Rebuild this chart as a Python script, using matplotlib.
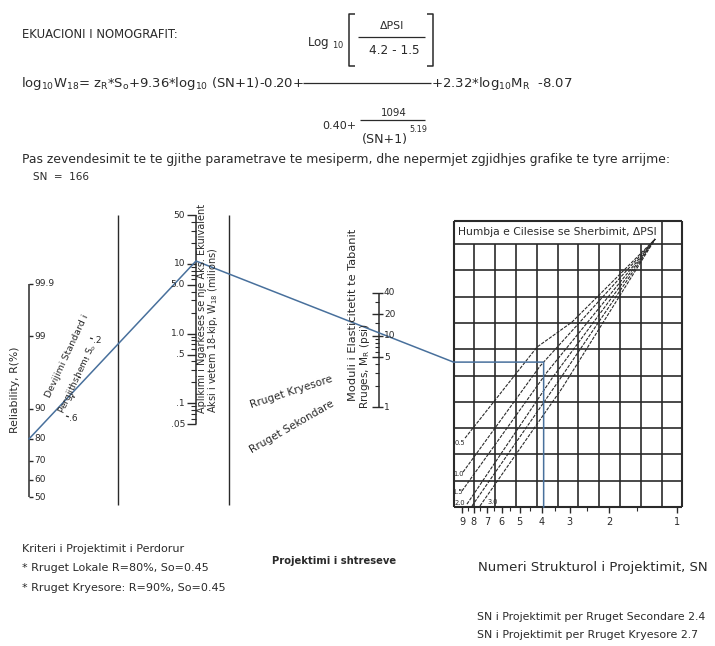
import math
import numpy as np
import matplotlib
matplotlib.use("Agg")
import matplotlib.pyplot as plt

rel_values = [99.9, 99, 90, 80, 70, 60, 50]
rel_labels = ["99.9", "99", "90", "80", "70", "60", "50"]
so_values = [0.2, 0.3, 0.4, 0.5, 0.6]
so_labels = [".2", "", "", "", ".6"]
w18_major = [50, 10, 5, 1, 0.5, 0.1, 0.05]
w18_labels = ["50", "10", "5.0", "1.0", ".5", ".1", ".05"]
w18_minor = [40, 30, 20, 9, 8, 7, 6, 4, 3, 2, 0.9, 0.8, 0.7, 0.6, 0.4, 0.3,
             0.2, 0.09, 0.08, 0.07, 0.06]
mr_major = [40, 20, 10, 5, 1]
mr_labels = ["40", "20", "10", "5", "1"]
mr_minor = [30, 15, 9, 8, 7, 6, 4, 3, 2]
sn_major = [9, 8, 7, 6, 5, 4, 3, 2, 1]
sn_minor = [8.5, 7.5, 6.5, 5.5, 4.5, 3.5, 2.5, 1.5]
psi_names = ["0.5", "1.0", "1.5", "2.0", "", "3.0"]
psi_sn = [[8.75, 4.19, 2.93, 1.25],
          [8.93, 4.06, 1.25],
          [9.03, 3.78, 1.25],
          [8.58, 3.59, 1.25],
          [8.15, 3.41, 1.25],
          [7.51, 3.24, 1.25]]
psi_row = [[2.62, 6.08, 7.03, 10.19],
           [1.33, 5.36, 10.19],
           [0.61, 5.13, 10.19],
           [0.11, 4.90, 10.19],
           [0.04, 4.71, 10.19],
           [0.04, 4.52, 10.19]]
design_R = 80
design_So = 0.45
design_W18 = 11
design_MR = 11
design_psi = 1

# ---------------- layout ----------------
W, H = 715, 646
INK = "#2a2a2a"
BLUE = "#48709c"
FONT = ["DejaVu Sans"]
plt.rcParams["font.family"] = FONT
plt.rcParams["mathtext.fontset"] = "dejavusans"
plt.rcParams["mathtext.default"] = "regular"

fig = plt.figure(figsize=(W / 100, H / 100), dpi=100)
ax = fig.add_axes([0, 0, 1, 1])
ax.set_xlim(0, W)
ax.set_ylim(H, 0)
ax.axis("off")
fig.canvas.draw()
rend = fig.canvas.get_renderer()

TICKFS = 6.5


def fsize(s, length, **kw):
    t = ax.text(0, 0, s, fontsize=10, **kw)
    w = t.get_window_extent(rend).width
    t.remove()
    return 10.0 * length / w


def txt(s, x0, x1, y, fs=None, lo=5.0, hi=9.5, **kw):
    if fs is None:
        fs = min(max(fsize(s, x1 - x0, **kw), lo), hi)
    ax.text(x0, y, s, fontsize=fs, ha="left", va="center", color=INK, **kw)


def rtxt(s, cx, cy, rot, fs, **kw):
    ax.text(cx, cy, s, fontsize=fs, rotation=rot, rotation_mode="anchor",
            ha="center", va="center", color=INK, **kw)


def line(xs, ys, lw=1.0, color=INK, **kw):
    ax.plot(xs, ys, color=color, lw=lw, solid_capstyle="butt", **kw)


def inv_norm(p):
    lo, hi = -8.0, 8.0
    for _ in range(80):
        mid = 0.5 * (lo + hi)
        if 0.5 * (1 + math.erf(mid / math.sqrt(2))) < p:
            lo = mid
        else:
            hi = mid
    return 0.5 * (lo + hi)


R_X = 29
def r_y(r):
    return 497 - 69 * inv_norm(r / 100.0)

def so_xy(s):
    t = (s - 0.2) / 0.4
    return 90 - 24 * t, 338 + 78 * t

W_X = 196
def w_y(v):
    return 333.6 - 69.7 * math.log10(v)

M_X = 379
def m_y(v):
    return 407 - 71.2 * math.log10(v)

GX0, GDX, NC = 453.5, 20.8, 11
GY0, GDY, NR = 507.0, 26.3, 10
TITLE_TOP = 221
def sn_x(s):
    return 677 - 225 * math.log10(s)

def row_y(r):
    return GY0 - GDY * r

# ---------------- header equation ----------------
txt("EKUACIONI I NOMOGRAFIT:", 22, 178, 35)
txt("Log $_{10}$", 307, 344, 43)
line([355, 349, 349, 355], [14, 14, 66, 66], lw=1.1)
line([427, 433, 433, 427], [14, 14, 66, 66], lw=1.1)
txt("ΔPSI", 380, 404, 26)
line([358, 425], [37, 37], lw=0.9)
txt("4.2 - 1.5", 369, 419, 51)
txt("log$_{10}$W$_{18}$= z$_R$*S$_o$+9.36*log$_{10}$ (SN+1)-0.20+", 21, 303, 83)
line([303, 431], [83, 83], lw=0.9)
txt("+2.32*log$_{10}$M$_R$  -8.07", 431, 575, 83)
txt("0.40+", 322, 356, 126)
txt("1094", 381, 407, 113)
line([360, 425], [120, 120], lw=0.9)
txt("(SN+1)", 362, 408, 140)
txt("5.19", 409, 427, 130)
txt("Pas zevendesimit te te gjithe parametrave te mesiperm, dhe nepermjet "
    "zgjidhjes grafike te tyre arrijme:", 22, 670, 159)
txt("SN  =  166", 33, 80, 177, fs=7.5)

# ---------------- turning lines ----------------
for xv in (118, 229):
    line([xv, xv], [215, 505], lw=1.0)

# ---------------- reliability scale ----------------
ry = [r_y(v) for v in rel_values]
line([R_X, R_X], [ry[0], ry[-1]], lw=1.1)
for lab, y in zip(rel_labels, ry):
    line([R_X, R_X + 4], [y, y], lw=1.0)
    ax.text(R_X + 5, y, lab, fontsize=TICKFS, ha="left", va="center", color=INK)
rtxt("Reliability, R(%)", 15, 390, 90, 7.8)

# ---------------- standard deviation scale ----------------
ux, uy = -24 / 81.6, 78 / 81.6
nx, ny = uy, -ux
for v, lab in zip(so_values, so_labels):
    px, py = so_xy(v)
    line([px, px + 3 * nx], [py, py + 3 * ny], lw=0.9)
    if lab:
        ax.text(px + 8 * nx, py + 8 * ny, lab, fontsize=TICKFS, ha="center",
                va="center", color=INK)
rtxt("Devijimi Standard i", 67, 356, 65, 6.8)
rtxt("Pergjithshem, S$_o$", 77, 379, 65, 6.5)

# ---------------- W18 scale ----------------
line([W_X, W_X], [w_y(w18_major[0]), w_y(w18_major[-1])], lw=1.1)
for v, lab in zip(w18_major, w18_labels):
    y = w_y(v)
    line([W_X - 9, W_X], [y, y], lw=1.0)
    ax.text(W_X - 11, y, lab, fontsize=TICKFS, ha="right", va="center", color=INK)
for v in w18_minor:
    y = w_y(v)
    line([W_X - 5, W_X], [y, y], lw=0.8)
rtxt("Aplikimi i Ngarkeses se nje Aks. Ekuivalent", 202, 308, 90, 7.0)
rtxt("Aksi i vetem 18-kip, W$_{18}$ (milions)", 213, 330, 90, 7.0)

# ---------------- MR scale ----------------
line([M_X, M_X], [m_y(mr_major[0]), m_y(mr_major[-1])], lw=1.1)
for v, lab in zip(mr_major, mr_labels):
    y = m_y(v)
    line([M_X - 7, M_X + 4], [y, y], lw=1.0)
    ax.text(M_X + 5, y, lab, fontsize=TICKFS, ha="left", va="center", color=INK)
for v in mr_minor:
    y = m_y(v)
    line([M_X - 4, M_X], [y, y], lw=0.8)
rtxt("Moduli i Elasticitetit te Tabanit", 353, 315, 90, 8.2)
rtxt("Rruges, M$_R$ (psi)", 365.5, 366, 90, 7.6)

# ---------------- road class notes ----------------
rtxt("Rruget Kryesore", 291, 392, 18, 7.6)
rtxt("Rruget Sekondare", 292, 427, 30, 7.6)

# ---------------- design chart grid ----------------
gx = [GX0 + i * GDX for i in range(NC + 1)]
gy = [GY0 - j * GDY for j in range(NR + 1)]
for j, y in enumerate(gy):
    line([gx[0], gx[-1]], [y, y], lw=1.5 if j == 0 else 1.2)
line([gx[0], gx[-1]], [TITLE_TOP, TITLE_TOP], lw=1.5)
for i, x in enumerate(gx):
    top = TITLE_TOP if i in (0, NC - 1, NC) else gy[-1]
    line([x, x], [GY0, top], lw=1.5 if i in (0, NC) else 1.2)
txt("Humbja e Cilesise se Sherbimit, ΔPSI", 458, 656, 232)

label_off = [(-10, 5), (-10, 2), (-10, 1), (-12, -1), (0, 0), (8, -4)]
for sns, rows, name, (ox, oy) in zip(psi_sn, psi_row, psi_names, label_off):
    xs = [sn_x(s) for s in sns]
    ys = [row_y(r) for r in rows]
    ax.plot(xs, ys, color=INK, lw=0.8, dashes=(3, 1.2))
    if name:
        ax.text(xs[0] + ox, ys[0] + oy, name, fontsize=4.8, ha="left",
                va="center", color=INK)

# SN axis under the chart
for s in sn_major:
    x = sn_x(s)
    line([x, x], [GY0, GY0 + 6], lw=1.0)
    ax.text(x, GY0 + 15, str(s), fontsize=7, ha="center", va="center",
            color=INK)
for s in sn_minor:
    x = sn_x(s)
    line([x, x], [GY0, GY0 + 3.5], lw=0.8)

# ---------------- solution line ----------------
p1 = (R_X, r_y(design_R))
p2 = (W_X, w_y(design_W18))
p3 = (M_X, m_y(design_MR))
slope = (p3[1] - p2[1]) / (p3[0] - p2[0])
p4 = (GX0, p2[1] + slope * (GX0 - p2[0]))
cx = [sn_x(s) for s in psi_sn[design_psi]]
cy = [row_y(r) for r in psi_row[design_psi]]
xi = float(np.interp(p4[1], cy[::-1], cx[::-1]))
bx = [p1[0], p2[0], p4[0], xi, xi]
by = [p1[1], p2[1], p4[1], p4[1], GY0]
ax.plot(bx, by, color=BLUE, lw=1.1, solid_joinstyle="miter")

# ---------------- notes ----------------
txt("Kriteri i Projektimit i Perdorur", 22, 198, 549, fs=8.0)
txt("* Rruget Lokale R=80%, So=0.45", 22, 206, 568, fs=8.0)
txt("* Rruget Kryesore: R=90%, So=0.45", 22, 232, 588, fs=8.0)
txt("Projektimi i shtreseve", 272, 392, 561, fs=7.2, fontweight="bold")
txt("Numeri Strukturol i Projektimit, SN", 478, 712, 567)
txt("SN i Projektimit per Rruget Secondare 2.4", 477, 704, 617)
txt("SN i Projektimit per Rruget Kryesore 2.7", 477, 698, 635)

fig.savefig("out.png", dpi=100, facecolor="white")
